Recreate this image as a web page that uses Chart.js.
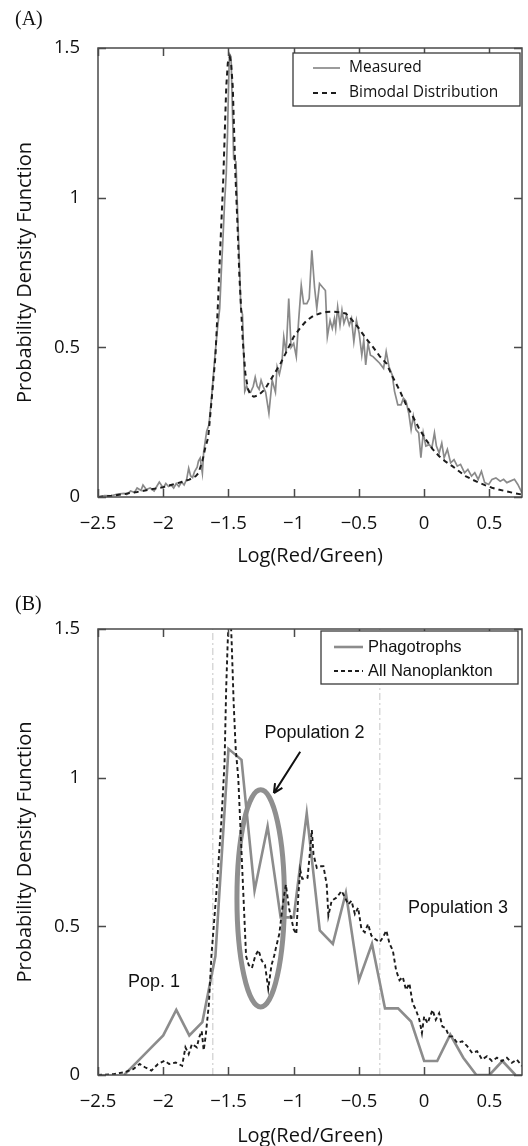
<!DOCTYPE html>
<html>
<head>
<meta charset="utf-8">
<script src="https://cdn.jsdelivr.net/npm/chart.js@4.4.0/dist/chart.umd.min.js"></script>
<style>
  html, body { margin: 0; padding: 0; background: #fff; }
  #wrap { position: relative; width: 528px; height: 1146px; overflow: hidden; }
  canvas { position: absolute; left: 0; }
  #cA { top: 0; }
  #cB { top: 573px; }
</style>
</head>
<body>
<div id="wrap">
  <canvas id="cA" width="528" height="573"></canvas>
  <canvas id="cB" width="528" height="573"></canvas>
</div>
<script>
// ---------------- DATA ----------------
const xTickValues = [-2.5, -2, -1.5, -1, -0.5, 0, 0.5];
const yTickValues = [0, 0.5, 1, 1.5];

// Panel A: Measured
const measuredX = [-2.5,-2.45,-2.4,-2.35,-2.3,-2.28,-2.25,-2.22,-2.2,-2.17,-2.155,-2.13,-2.1,-2.07,-2.05,-2.03,-2.0,-1.98,-1.96,-1.94,-1.92,-1.9,-1.88,-1.86,-1.84,-1.82,-1.805,-1.79,-1.775,-1.76,-1.74,-1.73,-1.717,-1.7,-1.69,-1.667,-1.65,-1.63,-1.605,-1.585,-1.567,-1.555,-1.5425,-1.53,-1.517,-1.508,-1.5,-1.4925,-1.48,-1.47,-1.46,-1.4425,-1.43,-1.4175,-1.405,-1.3925,-1.375,-1.36,-1.345,-1.33,-1.31,-1.295,-1.28,-1.265,-1.25,-1.235,-1.215,-1.19,-1.165,-1.14,-1.127,-1.11,-1.09,-1.076,-1.058,-1.038,-1.02,-1.0,-0.98,-0.962,-0.942,-0.924,-0.899,-0.881,-0.861,-0.84,-0.823,-0.802,-0.777,-0.757,-0.742,-0.721,-0.704,-0.688,-0.678,-0.663,-0.645,-0.63,-0.615,-0.595,-0.574,-0.557,-0.539,-0.519,-0.498,-0.478,-0.463,-0.448,-0.43,-0.412,-0.392,-0.367,-0.341,-0.311,-0.291,-0.27,-0.245,-0.227,-0.202,-0.177,-0.159,-0.139,-0.118,-0.1,-0.083,-0.063,-0.042,-0.025,-0.007,0.013,0.039,0.059,0.079,0.094,0.115,0.135,0.153,0.178,0.203,0.229,0.254,0.279,0.31,0.335,0.363,0.388,0.414,0.439,0.464,0.495,0.52,0.55,0.583,0.609,0.634,0.66,0.692,0.718,0.75];
const measuredY = [0.0,0.005,0.004,0.01,0.012,0.008,0.02,0.015,0.03,0.022,0.04,0.025,0.03,0.02,0.035,0.05,0.03,0.045,0.035,0.04,0.03,0.045,0.035,0.05,0.04,0.06,0.096,0.07,0.065,0.085,0.1,0.12,0.13,0.08,0.15,0.22,0.24,0.33,0.465,0.56,0.63,0.75,0.86,0.98,1.08,1.2,1.36,1.48,1.47,1.3,1.13,1.12,0.95,0.8,0.63,0.61,0.353,0.37,0.355,0.35,0.37,0.40,0.37,0.36,0.39,0.37,0.35,0.28,0.39,0.35,0.435,0.41,0.45,0.535,0.48,0.663,0.50,0.513,0.469,0.59,0.707,0.646,0.646,0.663,0.824,0.70,0.63,0.713,0.70,0.69,0.535,0.59,0.563,0.596,0.563,0.635,0.574,0.624,0.58,0.607,0.574,0.596,0.519,0.59,0.547,0.474,0.524,0.441,0.513,0.474,0.469,0.458,0.447,0.43,0.486,0.436,0.408,0.353,0.308,0.308,0.33,0.32,0.28,0.225,0.27,0.225,0.214,0.131,0.214,0.17,0.175,0.164,0.214,0.17,0.147,0.18,0.131,0.159,0.114,0.125,0.103,0.109,0.081,0.092,0.07,0.081,0.059,0.086,0.048,0.042,0.059,0.064,0.053,0.059,0.048,0.053,0.059,0.042,0.014];

// Panel A: Bimodal distribution
const bimodalX = [-2.5,-2.4,-2.3,-2.2,-2.1,-2.0,-1.9,-1.8,-1.75,-1.73,-1.7,-1.68,-1.655,-1.63,-1.6,-1.58,-1.56,-1.54,-1.517,-1.505,-1.49,-1.48,-1.467,-1.455,-1.447,-1.43,-1.417,-1.39,-1.37,-1.35,-1.33,-1.305,-1.27,-1.22,-1.2,-1.15,-1.1,-1.05,-1.0,-0.95,-0.9,-0.85,-0.8,-0.75,-0.7,-0.65,-0.6,-0.55,-0.5,-0.45,-0.39,-0.34,-0.29,-0.24,-0.19,-0.14,-0.088,-0.04,0.013,0.065,0.115,0.165,0.216,0.27,0.317,0.37,0.42,0.47,0.52,0.57,0.62,0.68,0.75];
const bimodalY = [0.0,0.004,0.01,0.017,0.025,0.033,0.045,0.058,0.07,0.08,0.12,0.16,0.2,0.32,0.47,0.65,0.86,1.06,1.37,1.45,1.47,1.45,1.37,1.2,1.08,0.9,0.745,0.52,0.41,0.36,0.34,0.335,0.34,0.36,0.375,0.41,0.447,0.49,0.535,0.565,0.59,0.605,0.613,0.618,0.619,0.617,0.613,0.59,0.563,0.532,0.50,0.47,0.447,0.40,0.358,0.31,0.27,0.23,0.192,0.16,0.136,0.118,0.103,0.085,0.07,0.058,0.048,0.039,0.031,0.025,0.02,0.014,0.008];

// Panel B: Phagotrophs
const phagoX = [-2.3,-2.2,-2.1,-2.0,-1.9,-1.8,-1.7,-1.6,-1.5,-1.4,-1.3,-1.2,-1.1,-1.0,-0.9,-0.8,-0.7,-0.6,-0.5,-0.4,-0.3,-0.2,-0.1,0.0,0.1,0.2,0.3,0.4,0.5,0.6,0.7];
const phagoY = [0,0.044,0.089,0.133,0.219,0.133,0.178,0.40,1.097,1.06,0.62,0.836,0.53,0.53,0.88,0.486,0.441,0.613,0.319,0.441,0.224,0.224,0.18,0.047,0.047,0.136,0.058,0,0,0.047,0];

// Panel B: All Nanoplankton
const nanoX = [-2.5,-2.38,-2.29,-2.23,-2.18,-2.14,-2.09,-2.04,-1.99,-1.955,-1.905,-1.855,-1.83,-1.805,-1.78,-1.7425,-1.725,-1.705,-1.69,-1.675,-1.65,-1.63,-1.59,-1.555,-1.53,-1.5175,-1.505,-1.49,-1.475,-1.46,-1.445,-1.425,-1.41,-1.395,-1.385,-1.375,-1.365,-1.345,-1.32,-1.295,-1.27,-1.245,-1.22,-1.195,-1.17,-1.15,-1.135,-1.11,-1.09,-1.075,-1.06,-1.035,-1.0,-0.98,-0.965,-0.95,-0.935,-0.91,-0.894,-0.875,-0.861,-0.848,-0.823,-0.802,-0.772,-0.747,-0.734,-0.709,-0.67,-0.633,-0.607,-0.582,-0.557,-0.531,-0.506,-0.481,-0.455,-0.43,-0.405,-0.379,-0.341,-0.316,-0.29,-0.265,-0.24,-0.215,-0.189,-0.164,-0.139,-0.113,-0.088,-0.063,-0.037,-0.017,0.0,0.026,0.064,0.089,0.115,0.14,0.165,0.191,0.216,0.254,0.292,0.33,0.368,0.406,0.444,0.482,0.52,0.558,0.596,0.634,0.672,0.71,0.75];
const nanoY = [0,0.003,0.01,0.02,0.037,0.026,0.015,0.037,0.048,0.037,0.042,0.031,0.093,0.07,0.104,0.093,0.126,0.148,0.083,0.13,0.239,0.405,0.628,0.85,1.05,1.3,1.465,1.62,1.45,1.25,1.1,1.0,0.85,0.7,0.6,0.5,0.4,0.37,0.36,0.4,0.42,0.385,0.37,0.29,0.37,0.4,0.43,0.475,0.55,0.6,0.64,0.56,0.49,0.474,0.6,0.69,0.66,0.66,0.663,0.75,0.824,0.741,0.697,0.702,0.702,0.641,0.536,0.586,0.597,0.619,0.597,0.574,0.586,0.541,0.563,0.491,0.48,0.508,0.469,0.458,0.447,0.463,0.486,0.441,0.419,0.352,0.319,0.33,0.286,0.308,0.241,0.219,0.186,0.141,0.197,0.174,0.219,0.186,0.208,0.163,0.158,0.13,0.13,0.108,0.113,0.097,0.074,0.08,0.052,0.063,0.047,0.058,0.047,0.058,0.041,0.052,0.03];

// Panel B: population boundaries (vertical reference lines)
const boundaryX = [-1.62, -0.34];

// Panel B annotations
const annotTexts = [
  { text: 'Population 2', x: -0.84, y: 1.15 },
  { text: 'Population 3', x: 0.26, y: 0.562 },
  { text: 'Pop. 1', x: -2.07, y: 0.311 }
];
const highlightEllipse = { cx: -1.253, cy: 0.594, rx: 0.182, ry: 0.365 };
const arrowFromTo = { x0: -0.95, y0: 1.087, x1: -1.152, y1: 0.948 };

// ---------------- HELPERS ----------------
const zip = (xs, ys) => xs.map((x, i) => ({ x, y: ys[i] }));
const fmtTick = v => (v < 0 ? '\u2212' + String(Math.abs(v)) : String(v));
const TICK_FONT = { family: '"Open Sans", sans-serif', size: 18.5 };
const TITLE_FONT = { family: '"Open Sans", sans-serif', size: 20, lineHeight: 1 };

const framePlugin = {
  id: 'frame',
  afterDatasetsDraw(chart) {
    const { ctx, chartArea: a, scales: { x, y } } = chart;
    ctx.save();
    ctx.strokeStyle = '#4a4a4a';
    ctx.lineWidth = 1.5;
    ctx.strokeRect(a.left, a.top, a.right - a.left, a.bottom - a.top);
    const L = 8;
    ctx.beginPath();
    x.ticks.forEach(t => {
      const px = Math.round(x.getPixelForValue(t.value)) + 0.5;
      ctx.moveTo(px, a.bottom); ctx.lineTo(px, a.bottom - L);
      ctx.moveTo(px, a.top); ctx.lineTo(px, a.top + L);
    });
    y.ticks.forEach(t => {
      const py = Math.round(y.getPixelForValue(t.value)) + 0.5;
      ctx.moveTo(a.left, py); ctx.lineTo(a.left + L, py);
      ctx.moveTo(a.right, py); ctx.lineTo(a.right - L, py);
    });
    ctx.stroke();
    ctx.restore();
  }
};

function legendPlugin(cfg) {
  return {
    id: 'boxLegend',
    afterDraw(chart) {
      const { ctx, chartArea: a } = chart;
      const ds = chart.data.datasets;
      ctx.save();
      const bx = a.right - cfg.rightGap - cfg.w, by = a.top + cfg.topGap;
      ctx.fillStyle = '#fff';
      ctx.fillRect(bx, by, cfg.w, cfg.h);
      ctx.strokeStyle = '#3a3a3a';
      ctx.lineWidth = 1.3;
      ctx.strokeRect(bx, by, cfg.w, cfg.h);
      ctx.font = cfg.font;
      ctx.textBaseline = 'middle';
      ctx.textAlign = 'left';
      cfg.items.forEach((idx, k) => {
        const d = ds[idx];
        const ry = by + cfg.row0 + k * cfg.rowGap;
        ctx.beginPath();
        ctx.strokeStyle = d.borderColor;
        ctx.lineWidth = d.borderWidth;
        ctx.setLineDash(d.borderDash || []);
        ctx.moveTo(bx + cfg.lineX0, ry);
        ctx.lineTo(bx + cfg.lineX1, ry);
        ctx.stroke();
        ctx.setLineDash([]);
        ctx.fillStyle = '#111';
        ctx.fillText(d.label, bx + cfg.textX, ry);
      });
      ctx.restore();
    }
  };
}

function panelLabel(text, y) {
  return {
    id: 'panelLabel',
    afterDraw(chart) {
      const ctx = chart.ctx;
      ctx.save();
      ctx.font = '20px "Liberation Serif", serif';
      ctx.fillStyle = '#111';
      ctx.textBaseline = 'middle';
      ctx.textAlign = 'left';
      ctx.fillText(text, 15, y);
      ctx.restore();
    }
  };
}

function baseOptions(topPad, xAxisH, titleBottomPad) {
  return {
    responsive: false,
    animation: false,
    devicePixelRatio: 1,
    layout: { padding: { left: 0, right: 6, top: topPad, bottom: 0 } },
    plugins: { legend: { display: false }, tooltip: { enabled: false } },
    elements: { point: { radius: 0 }, line: { tension: 0 } },
    scales: {
      x: {
        type: 'linear', min: -2.5, max: 0.75,
        grid: { display: false, drawTicks: false },
        border: { display: false },
        afterBuildTicks: s => { s.ticks = xTickValues.map(v => ({ value: v })); },
        afterFit: s => { s.height = xAxisH; },
        ticks: { padding: 16, color: '#111', font: TICK_FONT, maxRotation: 0, callback: v => fmtTick(v) },
        title: { display: true, text: 'Log(Red/Green)', color: '#111', font: TITLE_FONT, padding: { top: 0, bottom: titleBottomPad } }
      },
      y: {
        min: 0, max: 1.5,
        grid: { display: false, drawTicks: false },
        border: { display: false },
        afterBuildTicks: s => { s.ticks = yTickValues.map(v => ({ value: v })); },
        afterFit: s => { s.width = 98; },
        ticks: { padding: 18, color: '#111', font: TICK_FONT, callback: v => String(v) },
        title: { display: true, text: 'Probability Density Function', color: '#111', font: TITLE_FONT, padding: { top: 15, bottom: 0 } }
      }
    }
  };
}

// ---------------- CHART A ----------------
new Chart(document.getElementById('cA'), {
  type: 'line',
  data: {
    datasets: [
      { label: 'Measured', data: zip(measuredX, measuredY), borderColor: '#8a8a8a', borderWidth: 1.7, order: 1 },
      { label: 'Bimodal Distribution', data: zip(bimodalX, bimodalY), borderColor: '#1c1c1c', borderWidth: 2, borderDash: [5, 4], order: 0 }
    ]
  },
  options: baseOptions(48, 76, 7),
  plugins: [framePlugin,
    legendPlugin({ w: 227, h: 53, rightGap: 2, topGap: 5, row0: 15, rowGap: 25, lineX0: 20, lineX1: 47, textX: 56, items: [0, 1], font: '15.5px "Open Sans", sans-serif' }),
    panelLabel('(A)', 20)]
});

// ---------------- CHART B ----------------
const annotPlugin = {
  id: 'annot',
  beforeDatasetsDraw(chart) {
    const { ctx, scales: { x, y } } = chart;
    const e = highlightEllipse;
    const cx = x.getPixelForValue(e.cx), cy = y.getPixelForValue(e.cy);
    const rx = Math.abs(x.getPixelForValue(e.cx + e.rx) - cx);
    const ry = Math.abs(y.getPixelForValue(e.cy + e.ry) - cy);
    ctx.save();
    ctx.strokeStyle = '#8f8f8f';
    ctx.lineWidth = 5;
    ctx.beginPath();
    ctx.ellipse(cx, cy, rx, ry, 0, 0, Math.PI * 2);
    ctx.stroke();
    ctx.restore();
  },
  afterDatasetsDraw(chart) {
    const { ctx, scales: { x, y } } = chart;
    ctx.save();
    const a = arrowFromTo;
    const x0 = x.getPixelForValue(a.x0), y0 = y.getPixelForValue(a.y0);
    const x1 = x.getPixelForValue(a.x1), y1 = y.getPixelForValue(a.y1);
    ctx.strokeStyle = '#111';
    ctx.lineWidth = 2;
    ctx.beginPath();
    ctx.moveTo(x0, y0); ctx.lineTo(x1, y1);
    const ang = Math.atan2(y1 - y0, x1 - x0);
    const hl = 10, spread = 0.45;
    ctx.moveTo(x1, y1); ctx.lineTo(x1 - hl * Math.cos(ang - spread), y1 - hl * Math.sin(ang - spread));
    ctx.moveTo(x1, y1); ctx.lineTo(x1 - hl * Math.cos(ang + spread), y1 - hl * Math.sin(ang + spread));
    ctx.stroke();
    ctx.font = '18px "Liberation Sans", Arial, sans-serif';
    ctx.fillStyle = '#111';
    ctx.textAlign = 'center';
    ctx.textBaseline = 'middle';
    annotTexts.forEach(t => ctx.fillText(t.text, x.getPixelForValue(t.x), y.getPixelForValue(t.y)));
    ctx.restore();
  }
};

const boundarySets = boundaryX.map(bx => ({
  label: 'boundary', data: [{ x: bx, y: 0 }, { x: bx, y: 1.5 }],
  borderColor: '#cfcfcf', borderWidth: 1.2, borderDash: [7, 3, 2, 3], order: 3
}));

new Chart(document.getElementById('cB'), {
  type: 'line',
  data: {
    datasets: [
      { label: 'Phagotrophs', data: zip(phagoX, phagoY), borderColor: '#8c8c8c', borderWidth: 2.6, order: 1 },
      { label: 'All Nanoplankton', data: zip(nanoX, nanoY), borderColor: '#1c1c1c', borderWidth: 1.9, borderDash: [4, 3], order: 0 },
      ...boundarySets
    ]
  },
  options: baseOptions(56, 71, 0),
  plugins: [annotPlugin, framePlugin,
    legendPlugin({ w: 197, h: 53, rightGap: 4, topGap: 2, row0: 16, rowGap: 24, lineX0: 13, lineX1: 42, textX: 47, items: [0, 1], font: '16.5px "Liberation Sans", Arial, sans-serif' }),
    panelLabel('(B)', 32)]
});
</script>
</body>
</html>
